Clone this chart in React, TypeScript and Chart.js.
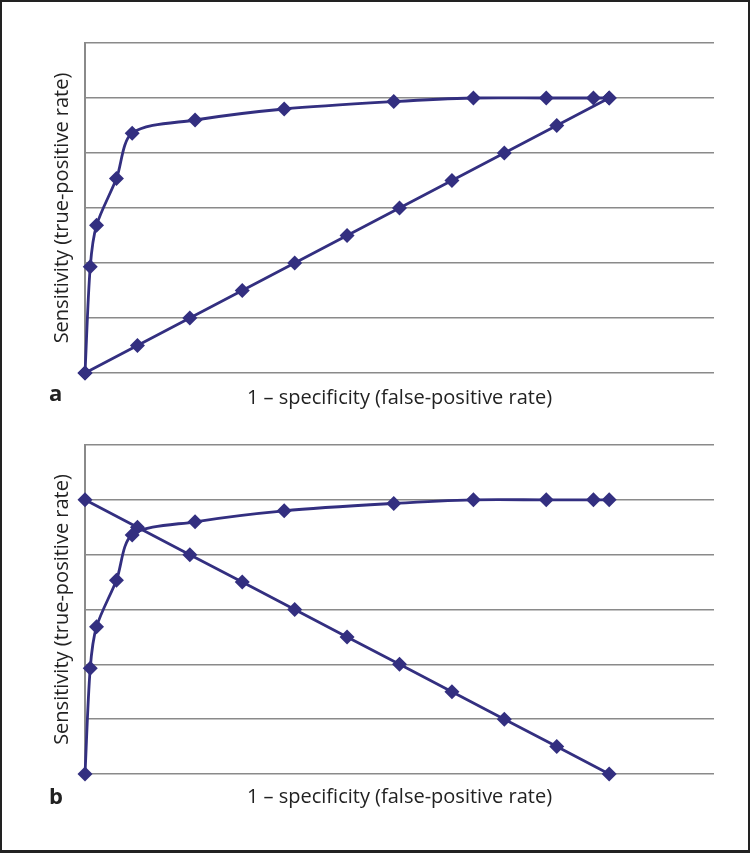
import React, { useEffect, useRef } from "react";
import { Chart, registerables } from "chart.js";

Chart.register(...registerables);

// ROC curve
const rocX = [0, 0.01, 0.022, 0.06, 0.09, 0.21, 0.38, 0.589, 0.741, 0.88, 0.97, 1.0];
const rocY = [0, 0.386, 0.537, 0.707, 0.872, 0.92, 0.96, 0.987, 1.0, 1.0, 1.0, 1.0];
// reference diagonals
const diagX = [0, 0.1, 0.2, 0.3, 0.4, 0.5, 0.6, 0.7, 0.8, 0.9, 1.0];
const diagUpY = [0, 0.1, 0.2, 0.3, 0.4, 0.5, 0.6, 0.7, 0.8, 0.9, 1.0];
const diagDownY = [1.0, 0.9, 0.8, 0.7, 0.6, 0.5, 0.4, 0.3, 0.2, 0.1, 0];
const axisMin = 0;
const axisMax = 1.2;
const yStep = 0.2;

const xTitle = "1 \u2013 specificity (false-positive rate)";
const yTitle = "Sensitivity (true-positive rate)";

const LINE = "#332f80";
const GRID = "#8a8a8a";
const TEXT = "#222222";
const FONT = "'Open Sans', 'Noto Sans', sans-serif";

function pts(xs: number[], ys: number[]) {
  return xs.map((x, i) => ({ x, y: ys[i] }));
}

function makeConfig(diagY: number[], padTop: number, xHeight: number, xTitlePad: number): any {
  const ds = (data: any[], tension: number) => ({
    data,
    showLine: true,
    borderColor: LINE,
    backgroundColor: LINE,
    borderWidth: 2.8,
    pointStyle: "rectRot",
    pointRadius: 7.5,
    pointHoverRadius: 7.5,
    pointBorderWidth: 0,
    tension,
    clip: false,
  });
  return {
    type: "scatter",
    data: {
      datasets: [ds(pts(rocX, rocY), 0.3), ds(pts(diagX, diagY), 0)],
    },
    options: {
      animation: false,
      responsive: false,
      maintainAspectRatio: false,
      events: [],
      layout: { padding: { top: padTop, right: 36, left: 0, bottom: 0 } },
      plugins: { legend: { display: false }, tooltip: { enabled: false } },
      scales: {
        x: {
          type: "linear",
          min: axisMin,
          max: axisMax,
          grid: { display: false, drawTicks: false },
          border: { display: false },
          ticks: { display: false },
          title: {
            display: true,
            text: xTitle,
            color: TEXT,
            font: { family: FONT, size: 20, lineHeight: 1.2 },
            padding: { top: 0, bottom: xTitlePad },
          },
          afterFit: (s: any) => {
            s.height = xHeight;
          },
        },
        y: {
          type: "linear",
          min: axisMin,
          max: axisMax,
          ticks: { display: false, stepSize: yStep },
          grid: { color: GRID, lineWidth: 1.5, drawTicks: false },
          border: { display: true, color: GRID, width: 2 },
          title: {
            display: true,
            text: yTitle,
            color: TEXT,
            font: { family: FONT, size: 20, lineHeight: 1.2 },
            padding: { top: 50, bottom: 0 },
          },
          afterFit: (s: any) => {
            s.width = 85;
          },
        },
      },
    },
  };
}

function Panel(props: { top: number; height: number; diagY: number[]; padTop: number; xHeight: number; xTitlePad: number }) {
  const ref = useRef<HTMLCanvasElement | null>(null);
  useEffect(() => {
    if (!ref.current) return;
    const chart = new Chart(ref.current, makeConfig(props.diagY, props.padTop, props.xHeight, props.xTitlePad));
    return () => chart.destroy();
  }, []);
  return (
    <div style={{ position: "absolute", left: 0, top: props.top, width: 750, height: props.height }}>
      <canvas ref={ref} width={750} height={props.height} style={{ width: 750, height: props.height, display: "block" }} />
    </div>
  );
}

export default function App() {
  const labelStyle: React.CSSProperties = {
    position: "absolute",
    fontFamily: FONT,
    fontWeight: 700,
    fontSize: 22,
    lineHeight: "22px",
    color: TEXT,
  };
  return (
    <div style={{ position: "fixed", left: 0, top: 0, width: 750, height: 853, background: "#fff", overflow: "hidden" }}>
      <Panel top={0} height={426} diagY={diagUpY} padTop={43} xHeight={53} xTitlePad={16} />
      <Panel top={426} height={427} diagY={diagDownY} padTop={19} xHeight={79} xTitlePad={44} />
      <span style={{ ...labelStyle, left: 49, top: 381 }}>a</span>
      <span style={{ ...labelStyle, left: 49, top: 784 }}>b</span>
      <div
        style={{
          position: "absolute",
          left: 0,
          top: 0,
          width: 750,
          height: 853,
          boxSizing: "border-box",
          borderStyle: "solid",
          borderColor: "#222",
          borderWidth: "2px 2px 3px 2px",
          pointerEvents: "none",
        }}
      />
    </div>
  );
}
